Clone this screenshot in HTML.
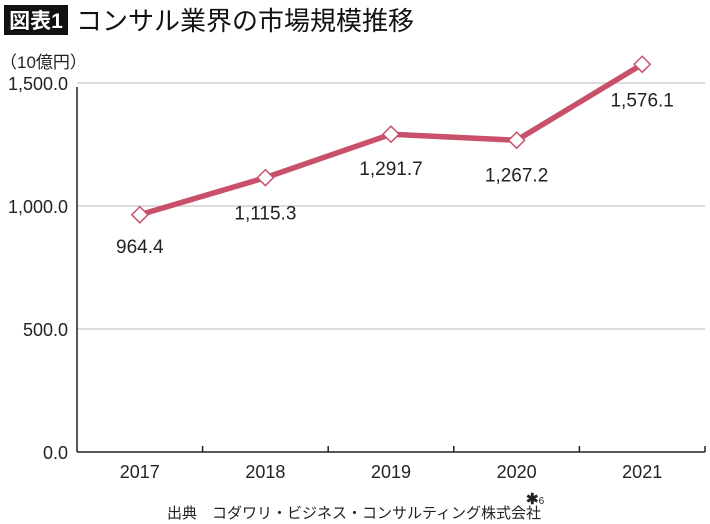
<!DOCTYPE html>
<html><head><meta charset="utf-8"><style>
body{margin:0;background:#fff;}
svg{display:block;font-family:"Liberation Sans","Noto Sans CJK JP",sans-serif;}
</style></head><body>
<svg id="chart" width="710" height="524" viewBox="0 0 710 524">
<rect x="4" y="5" width="64" height="30" fill="#111"/>
<text x="36" y="28" font-size="21" font-weight="bold" fill="#fff" text-anchor="middle">図表1</text>
<text x="76" y="30" font-size="26" fill="#111">コンサル業界の市場規模推移</text>
<text x="0" y="68" font-size="17" fill="#222">（10億円）</text>
<g id="grid"></g><g id="axes"></g><g id="series"></g>
<text x="354" y="518" font-size="15" fill="#222" text-anchor="middle">出典　コダワリ・ビジネス・コンサルティング株式会社</text>
<text x="526" y="504" font-size="15" font-weight="bold" fill="#222">✱<tspan font-size="10" font-weight="normal">6</tspan></text>
</svg>
<script>
const categories=["2017","2018","2019","2020","2021"];
const values=[964.4,1115.3,1291.7,1267.2,1576.1];
const valueLabels=["964.4","1,115.3","1,291.7","1,267.2","1,576.1"];
const yTicks=[0,500,1000,1500];
const yTickLabels=["0.0","500.0","1,000.0","1,500.0"];
const NS="http://www.w3.org/2000/svg";
const x0=77,x1=705,y0=452,yTop=83,yMax=1500;
const band=(x1-x0)/categories.length;
const xs=i=>x0+band*(i+0.5);
const ys=v=>y0-(v/yMax)*(y0-yTop);
function mk(tag,attrs,parent){const e=document.createElementNS(NS,tag);for(const k in attrs)e.setAttribute(k,attrs[k]);parent.appendChild(e);return e;}
const grid=document.getElementById('grid'),axes=document.getElementById('axes'),series=document.getElementById('series');
yTicks.forEach((t,i)=>{
  if(t>0){const g=mk('line',{x1:x0,x2:x1,y1:ys(t),y2:ys(t),stroke:'#c8c8c8','stroke-width':1.2},grid);
  
  }
  const l=mk('text',{x:68,y:ys(t)+7,'font-size':18,fill:'#222','text-anchor':'end'},axes);
  l.textContent=yTickLabels[i];
  
  
});
const ya=mk('line',{x1:x0,x2:x0,y1:yTop+4,y2:y0,stroke:'#222','stroke-width':1.5},axes);


const xa=mk('line',{x1:x0,x2:x1,y1:y0,y2:y0,stroke:'#222','stroke-width':1.5},axes);


categories.forEach((c,i)=>{
  const tk=mk('line',{x1:x0+band*(i+1),x2:x0+band*(i+1),y1:y0-6,y2:y0,stroke:'#222','stroke-width':1.5},axes);
  
  
  const l=mk('text',{x:xs(i),y:y0+26,'font-size':18,fill:'#222','text-anchor':'middle'},axes);
  l.textContent=c;
  
  
});
const pts=values.map((v,i)=>xs(i)+','+ys(v)).join(' ');
const line=mk('polyline',{points:pts,fill:'none',stroke:'#c9506b','stroke-width':5.5,'stroke-linejoin':'round'},series);


values.forEach((v,i)=>{
  const x=xs(i),y=ys(v),s=8;
  const d=mk('polygon',{points:`${x},${y-s} ${x+s},${y} ${x},${y+s} ${x-s},${y}`,fill:'#fff',stroke:'#c9506b','stroke-width':1.5},series);
  
  
  const t=mk('text',{x:x,y:y+(i==0?38:i==4?42:i==1?42:41),'font-size':19,fill:'#222','text-anchor':'middle'},series);
  t.textContent=valueLabels[i];
  
  
});
</script>
</body></html>
